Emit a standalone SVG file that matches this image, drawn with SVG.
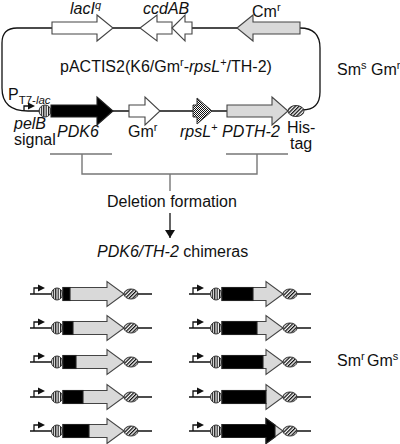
<svg xmlns="http://www.w3.org/2000/svg" xmlns:xlink="http://www.w3.org/1999/xlink" width="400" height="444" viewBox="0 0 400 444">
<style>
text{font-family:"Liberation Sans",Arial,sans-serif;font-size:16px;fill:#111}
.it{font-style:italic}
.ln{fill:none;stroke:#111;stroke-width:1.3}
.br{fill:none;stroke:#777;stroke-width:1.4}
.open{fill:#fff;stroke:#444;stroke-width:1.1}
.gray{fill:#d9d9d9;stroke:#444;stroke-width:1.1}
.blk{fill:#000;stroke:#222;stroke-width:1.1}
.vs{fill:url(#vstripe);stroke:#333;stroke-width:1}
.ds{fill:url(#dstripe);stroke:#333;stroke-width:1}
.chk{fill:url(#check);stroke:#333;stroke-width:1}
</style>
<defs>
<pattern id="vstripe" patternUnits="userSpaceOnUse" width="2.4" height="10"><rect width="2.4" height="10" fill="#fff"/><rect width="1.2" height="10" fill="#111"/></pattern>
<pattern id="dstripe" patternUnits="userSpaceOnUse" width="2.6" height="2.6" patternTransform="rotate(45)"><rect width="2.6" height="2.6" fill="#fff"/><rect width="1.3" height="2.6" fill="#111"/></pattern>
<pattern id="check" patternUnits="userSpaceOnUse" width="2" height="2"><rect width="2" height="2" fill="#fff"/><rect width="1" height="1" fill="#111"/><rect x="1" y="1" width="1" height="1" fill="#111"/></pattern>
<marker id="ah" markerWidth="8" markerHeight="10" refX="8" refY="5" orient="auto" markerUnits="userSpaceOnUse"><path d="M0,0 L8,5 L0,10 Z" fill="#111"/></marker>
<g id="chim">
<path class="ln" d="M30,0 H152"/>
<path class="ln" d="M34,0 V-6 H38"/>
<path d="M38,-9.5 L45,-6 L38,-2.5 Z" fill="#111"/>
<ellipse class="vs" cx="57" cy="0" rx="5.5" ry="6"/>
<path class="gray" d="M63,-6.5 H107 V-12.5 L124,0 L107,12.5 V6.5 H63 Z"/>
<ellipse class="ds" cx="131" cy="0" rx="7" ry="5"/>
</g>
</defs>

<g id="connectors">
<path id="plasmid-backbone" class="ln" d="M300,28 H17 Q2,28 2,43 V88 Q2,111 28,111 H290 M300,28 Q320,28 320,48 V92 Q320,110 302,110"/>
<path class="br" d="M50,154 H112 M226,154 H288 M82,154 V174 H257 V154 M170,174 V191"/>
<path class="ln" d="M170,213 V238" marker-end="url(#ah)"/>
</g>

<g id="lacIq">
<path class="open" d="M52,22 H97 V15 L113,28 L97,41 V34 H52 Z"/>
<text x="70" y="13.5" class="it">lacI<tspan font-size="11" dy="-5">q</tspan></text>
</g>
<g id="ccdAB">
<path class="open" d="M140,28 L157,15 V22 H172 V34 H157 V41 Z"/>
<path class="open" d="M172,28 L185,15 V22 H192 V34 H185 V41 Z"/>
<text x="143" y="13.5" class="it">ccdAB</text>
</g>
<g id="Cmr">
<path class="gray" d="M237,28 L253,15 V22 H300 V34 H253 V41 Z"/>
<text x="252" y="17">Cm<tspan font-size="11" dy="-6">r</tspan></text>
</g>
<g id="plasmid-label">
<text x="60" y="72" font-size="15.6">pACTIS2(K6/Gm<tspan font-size="11" dy="-6">r</tspan><tspan dy="6">-</tspan><tspan class="it">rpsL</tspan><tspan font-size="11" dy="-6">+</tspan><tspan dy="6">/TH-2)</tspan></text>
</g>
<g id="phenotype-top">
<text x="337" y="75">Sm<tspan font-size="11" dy="-6">s</tspan></text>
<text x="371" y="75">Gm<tspan font-size="11" dy="-6">r</tspan></text>
</g>
<g id="promoter">
<path class="ln" d="M24,111 V106 H28"/>
<path d="M28,102.5 L35,106 L28,109.5 Z" fill="#111"/>
<text x="8" y="100">P<tspan font-size="11.5" dy="3.5">T7-</tspan><tspan font-size="11.5" class="it">lac</tspan></text>
</g>
<g id="pelB">
<circle class="vs" cx="45" cy="111" r="6"/>
<text x="14" y="128.5" class="it">pelB</text>
<text x="14" y="145">signal</text>
</g>
<g id="PDK6">
<path class="blk" d="M51,105 H97 V97 L113,111 L97,125 V117 H51 Z"/>
<text x="57" y="137" class="it">PDK6</text>
</g>
<g id="Gmr">
<path class="open" d="M129,105 H145 V97 L160,111 L145,125 V117 H129 Z"/>
<text x="128" y="137">Gm<tspan font-size="11" dy="-6">r</tspan></text>
</g>
<g id="rpsL">
<path class="chk" d="M193,105 H197 V98 L212,111 L197,124 V117 H193 Z"/>
<text x="180" y="137" class="it">rpsL<tspan font-size="11" dy="-6" font-style="normal">+</tspan></text>
</g>
<g id="PDTH-2">
<path class="gray" d="M227,105 H272 V97 L288,111 L272,125 V117 H227 Z"/>
<text x="222" y="137" class="it">PDTH-2</text>
</g>
<g id="His-tag">
<ellipse class="ds" cx="296" cy="111" rx="8" ry="5.5"/>
<text x="287" y="133">His-</text>
<text x="290" y="149">tag</text>
</g>
<g id="deletion-label">
<text x="107" y="207">Deletion formation</text>
</g>
<g id="chimeras-label">
<text x="97" y="257"><tspan class="it">PDK6/TH-2</tspan> chimeras</text>
</g>

<g id="chimera-1" transform="translate(0,294)"><use xlink:href="#chim"/><rect class="blk" x="63" y="-6.5" width="7" height="13"/></g>
<g id="chimera-2" transform="translate(0,328)"><use xlink:href="#chim"/><rect class="blk" x="63" y="-6.5" width="10" height="13"/></g>
<g id="chimera-3" transform="translate(0,362)"><use xlink:href="#chim"/><rect class="blk" x="63" y="-6.5" width="13" height="13"/></g>
<g id="chimera-4" transform="translate(0,397)"><use xlink:href="#chim"/><rect class="blk" x="63" y="-6.5" width="20" height="13"/></g>
<g id="chimera-5" transform="translate(0,431)"><use xlink:href="#chim"/><rect class="blk" x="63" y="-6.5" width="26" height="13"/></g>
<g id="chimera-6" transform="translate(159,294)"><use xlink:href="#chim"/><rect class="blk" x="63" y="-6.5" width="31" height="13"/></g>
<g id="chimera-7" transform="translate(159,328)"><use xlink:href="#chim"/><rect class="blk" x="63" y="-6.5" width="35" height="13"/></g>
<g id="chimera-8" transform="translate(159,362)"><use xlink:href="#chim"/><rect class="blk" x="63" y="-6.5" width="41" height="13"/></g>
<g id="chimera-9" transform="translate(159,397)"><use xlink:href="#chim"/><rect class="blk" x="63" y="-6.5" width="44" height="13"/></g>
<g id="chimera-10" transform="translate(159,431)"><use xlink:href="#chim"/><path class="blk" d="M63,-6.5 H107 V-12.5 L116,-5.9 V5.9 L107,12.5 V6.5 H63 Z"/></g>

<g id="phenotype-bottom">
<text x="337" y="366">Sm<tspan font-size="11" dy="-6">r</tspan></text>
<text x="367" y="366">Gm<tspan font-size="11" dy="-6">s</tspan></text>
</g>
</svg>
